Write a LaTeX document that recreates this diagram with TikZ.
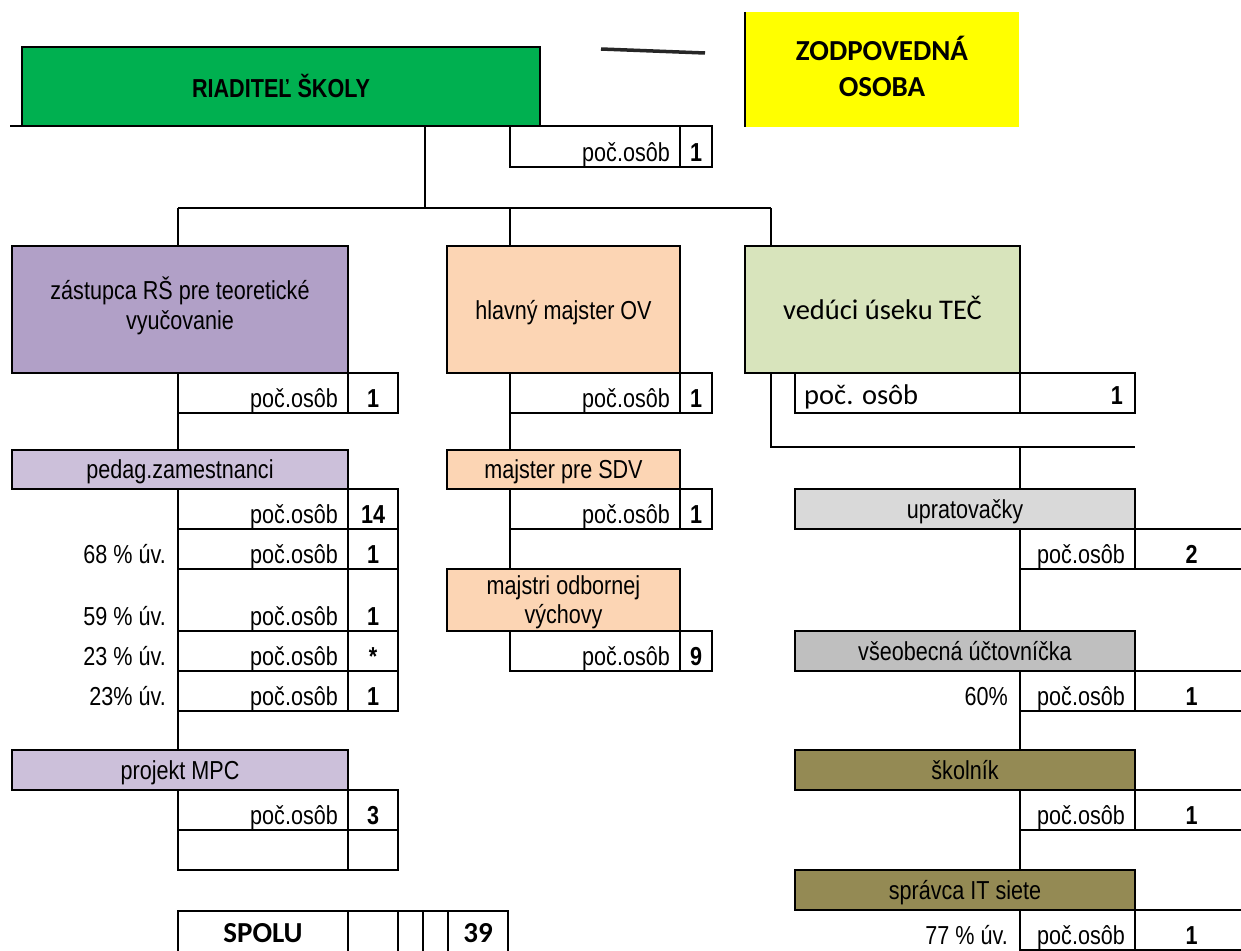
\documentclass[tikz,border=0pt]{standalone}
\usepackage{fontspec}
\setmainfont{Liberation Sans}[FakeStretch=0.83]
\newfontfamily\calfnt{Carlito}
\definecolor{cGreen}{HTML}{00B050}
\definecolor{cYellow}{HTML}{FFFF00}
\definecolor{cPurple}{HTML}{B1A0C7}
\definecolor{cLPurple}{HTML}{CCC0DA}
\definecolor{cPeach}{HTML}{FCD5B4}
\definecolor{cLGreen}{HTML}{D8E4BC}
\definecolor{cGrayA}{HTML}{D9D9D9}
\definecolor{cGrayB}{HTML}{BFBFBF}
\definecolor{cOlive}{HTML}{948A54}
\tikzset{
  ln/.style={line width=2pt},
  bx/.style={draw, line width=2pt, anchor=north west, inner sep=0pt, outer sep=0pt},
  tx/.style={font=\fontsize{26}{30}\selectfont, inner sep=0pt, anchor=base},
  lb/.style={tx, anchor=base east},
  vl/.style={tx, font=\fontsize{26}{30}\selectfont\bfseries},
  cf/.style={inner sep=0pt, anchor=base, font=\calfnt\fontsize{28.5}{34}\selectfont},
  cfb/.style={inner sep=0pt, anchor=base, font=\calfnt\bfseries\fontsize{29}{35}\selectfont}
}
% name, x0, x1, x2, y0, y1, label, value
\newcommand\crow[8]{%
  \node[bx, minimum width={#3-#2}, minimum height={#6-#5}] (#1a) at (#2,#5) {};
  \node[bx, minimum width={#4-#3}, minimum height={#6-#5}] (#1b) at (#3,#5) {};
  \node[lb] at ([xshift=-10pt,yshift=6pt]#1a.south east) {#7};
  \node[vl] at ([yshift=6pt]#1b.south) {#8};
}
\begin{document}
\begin{tikzpicture}[x=1pt,y=-1pt]
\useasboundingbox (0,0) rectangle (1241,950);
\clip (0,0) rectangle (1241,950);

% ---- top ----
\node[bx, fill=cGreen, minimum width=518, minimum height=79] (rs) at (22,47) {};
\node[tx, font=\fontsize{26}{30}\selectfont\bfseries] at (281,97) {RIADITEĽ ŠKOLY};
\coordinate (lft) at (10,126);
\draw[ln] (lft) -- (rs.south west);
\crow{rc}{510}{680}{712}{126}{167}{poč.osôb}{1}

\node[fill=cYellow, anchor=north west, inner sep=0pt, minimum width=274, minimum height=115] (zo) at (745,12) {};
\draw[ln] (zo.north west) -- (zo.south west);
\node[cfb] at (882,60) {ZODPOVEDNÁ};
\node[cfb] at (882,96) {OSOBA};
\coordinate (d1) at (601,49);
\coordinate (d2) at (705,53);
\draw[line width=3.5pt, black!85] (d1) -- (d2);

% ---- branches ----
\coordinate (j0) at (425,126);
\coordinate (j1) at (425,208);
\draw[ln] (j0) -- (j1);
\coordinate (bl) at (178,208);
\coordinate (bm) at (510,208);
\coordinate (br) at (771,208);
\draw[ln] (bl) -- (br);

% ---- second level ----
\node[bx, fill=cPurple, minimum width=336, minimum height=127] (zr) at (12,246) {};
\node[tx] at (180,299) {zástupca RŠ pre teoretické};
\node[tx] at (180,329) {vyučovanie};
\node[bx, fill=cPeach, minimum width=233, minimum height=127] (hm) at (447,246) {};
\node[tx] at (563.5,319) {hlavný majster OV};
\node[bx, fill=cLGreen, minimum width=275, minimum height=127] (vt) at (745,246) {};
\node[cf] at (882.5,319) {vedúci úseku TEČ};
\draw[ln] (bl) -- (bl |- zr.north);
\draw[ln] (bm) -- (bm |- hm.north);
\draw[ln] (br) -- (br |- vt.north);

\crow{zc}{178}{348}{398}{373}{413}{poč.osôb}{1}
\crow{hc}{510}{680}{712}{373}{413}{poč.osôb}{1}
\node[bx, minimum width=225, minimum height=40] (vca) at (795,373) {};
\node[bx, minimum width=115, minimum height=40] (vcb) at (1020,373) {};
\node[cf, anchor=base west] at ([xshift=9pt,yshift=9pt]vca.south west) {poč. osôb};
\node[vl, anchor=base east] at ([xshift=-12pt,yshift=9pt]vcb.south east) {1};

% ---- left column ----
\node[bx, fill=cLPurple, minimum width=336, minimum height=39] (pz) at (12,450) {};
\node[tx] at (180,478.5) {pedag.zamestnanci};
\draw[ln] (zca.south west) -- (zca.south west |- pz.north);
\crow{ra}{178}{348}{398}{489}{529}{poč.osôb}{14}
\crow{rb}{178}{348}{398}{529}{569}{poč.osôb}{1}
\crow{rcc}{178}{348}{398}{569}{631}{poč.osôb}{1}
\crow{rd}{178}{348}{398}{631}{671}{poč.osôb}{*}
\crow{re}{178}{348}{398}{671}{711}{poč.osôb}{1}
\node[lb] at ([xshift=-12pt,yshift=6pt]rba.south west) {68 \% úv.};
\node[lb] at ([xshift=-12pt,yshift=6pt]rcca.south west) {59 \% úv.};
\node[lb] at ([xshift=-12pt,yshift=6pt]rda.south west) {23 \% úv.};
\node[lb] at ([xshift=-12pt,yshift=6pt]rea.south west) {23\% úv.};
\node[bx, fill=cLPurple, minimum width=336, minimum height=40] (pm) at (12,750) {};
\node[tx] at (180,779) {projekt MPC};
\draw[ln] (rea.south west) -- (rea.south west |- pm.north);
\crow{pa}{178}{348}{398}{790}{830}{poč.osôb}{3}
\crow{pb}{178}{348}{398}{830}{870}{}{}

% SPOLU
\node[bx, minimum width=170, minimum height=60] (s1) at (178,911) {};
\node[bx, minimum width=50, minimum height=60] (s2) at (348,911) {};
\node[bx, minimum width=25, minimum height=60] (s3) at (398,911) {};
\node[bx, minimum width=25, minimum height=60] (s4) at (423,911) {};
\node[bx, minimum width=60, minimum height=60] (s5) at (448,911) {};
\node[cfb] at (263,942) {SPOLU};
\node[cfb] at (478,942) {39};

% ---- middle column ----
\node[bx, fill=cPeach, minimum width=233, minimum height=39] (ms) at (447,450) {};
\node[tx] at (563.5,478.5) {majster pre SDV};
\draw[ln] (hca.south west) -- (hca.south west |- ms.north);
\crow{ma}{510}{680}{712}{489}{529}{poč.osôb}{1}
\node[bx, fill=cPeach, minimum width=233, minimum height=62] (mo) at (447,569) {};
\node[tx] at (563.5,594) {majstri odbornej};
\node[tx] at (563.5,623) {výchovy};
\draw[ln] (maa.south west) -- (maa.south west |- mo.north);
\crow{mb}{510}{680}{712}{631}{671}{poč.osôb}{9}

% ---- right column ----
\coordinate (rt1) at (771,447);
\coordinate (rt2) at (1135,447);
\coordinate (rt3) at (1020,447);
\draw[ln] (vt.south -| rt1) -- (rt1) -- (rt2);
\node[bx, fill=cGrayA, minimum width=340, minimum height=40] (up) at (795,489) {};
\node[tx] at (965,518) {upratovačky};
\draw[ln] (rt3) -- (rt3 |- up.north);
\crow{ua}{1020}{1135}{1248}{529}{569}{poč.osôb}{2}
\node[bx, fill=cGrayB, minimum width=340, minimum height=40] (vu) at (795,631) {};
\node[tx] at (965,660) {všeobecná účtovníčka};
\draw[ln] (uaa.south west) -- (uaa.south west |- vu.north);
\crow{va}{1020}{1135}{1248}{671}{711}{poč.osôb}{1}
\node[lb] at ([xshift=-12pt,yshift=6pt]vaa.south west) {60\%};
\node[bx, fill=cOlive, minimum width=340, minimum height=40] (sk) at (795,750) {};
\node[tx] at (965,779) {školník};
\draw[ln] (vaa.south west) -- (vaa.south west |- sk.north);
\crow{ka}{1020}{1135}{1248}{790}{830}{poč.osôb}{1}
\node[bx, fill=cOlive, minimum width=340, minimum height=40] (it) at (795,870) {};
\node[tx] at (965,899) {správca IT siete};
\draw[ln] (kaa.south west) -- (kaa.south west |- it.north);
\crow{ia}{1020}{1135}{1248}{910}{950}{poč.osôb}{1}
\node[lb] at ([xshift=-12pt,yshift=6pt]iaa.south west) {77 \% úv.};
\end{tikzpicture}
\end{document}
